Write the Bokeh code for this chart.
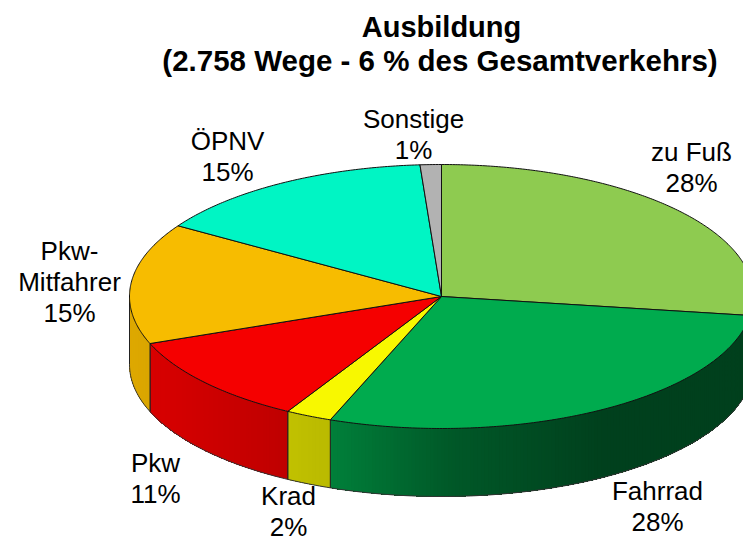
import math
from bokeh.plotting import figure
from bokeh.models import Range1d
from bokeh.core.properties import value
from bokeh.embed import file_html
from bokeh.resources import INLINE

# --- data ---
categories = ["zu Fuß", "Fahrrad", "Krad", "Pkw", "Pkw-Mitfahrer", "ÖPNV", "Sonstige"]
# slice sizes as measured in the picture (the printed labels are the rounded figures below)
shares = [27.3, 28.5, 2.4, 11.0, 14.8, 14.9, 1.1]
printed = [28, 28, 2, 11, 15, 15, 1]
top_colors = ["#8ECB50", "#00AB4E", "#F8F800", "#F50000", "#F7BC00", "#00F5C4", "#B2B2B2"]
title_lines = ["Ausbildung", "(2.758 Wege - 6 % des Gesamtverkehrs)"]
name_lines = [["zu Fuß"], ["Fahrrad"], ["Krad"], ["Pkw"], ["Pkw-", "Mitfahrer"], ["ÖPNV"], ["Sonstige"]]

# --- layout (picture pixels) ---
CX, CY, RX, RY, DEPTH = 441, 296, 312, 132, 68
label_pos = [(691, 151), (657, 490), (288, 495), (155, 462), (69, 250), (227, 140), (413, 118)]
LINE_H = 31
W, H = 743, 541
shade_x = [129, 289, 330, 450, 600, 760]
shade_v = [0.90, 0.78, 0.75, 0.52, 0.38, 0.38]
title_style = [(441, 26, "29px"), (439.5, 60, "29.5px")]


def shade(x):
    for i in range(len(shade_x) - 1):
        if x <= shade_x[i + 1]:
            t = (x - shade_x[i]) / (shade_x[i + 1] - shade_x[i])
            return shade_v[i] + t * (shade_v[i + 1] - shade_v[i])
    return shade_v[-1]


def darker(col, f):
    r, g, b = (int(col[i:i + 2], 16) for i in (1, 3, 5))
    return "#%02x%02x%02x" % (int(r * f), int(g * f), int(b * f))


def pt(deg):
    a = math.radians(deg)
    return CX + RX * math.sin(a), CY - RY * math.cos(a)


p = figure(width=W, height=H, x_range=Range1d(0, W), y_range=Range1d(H, 0),
           toolbar_location=None, output_backend="svg", min_border=0)
p.axis.visible = False
p.grid.visible = False
p.outline_line_color = None

bounds = [0.0]
for s in shares:
    bounds.append(bounds[-1] + s * 3.6)

# side wall: each strip runs on to the slice's end, so later strips overlap it and no seams show
for i, col in enumerate(top_colors):
    a0, a1 = max(bounds[i], 90), min(bounds[i + 1], 270)
    if a1 <= a0:
        continue
    n = max(2, int((a1 - a0) * 1.5))
    us = [a0 + (a1 - a0) * k / n for k in range(n + 1)]
    for k in range(n):
        seg = [pt(u) for u in us[k:]]
        mid = pt((us[k] + us[k + 1]) / 2)
        p.patch([q[0] for q in seg] + [q[0] for q in reversed(seg)],
                [q[1] for q in seg] + [q[1] + DEPTH for q in reversed(seg)],
                fill_color=darker(col, shade(mid[0])), line_color=None)
    arc = [pt(u) for u in us]
    p.line([q[0] for q in arc], [q[1] + DEPTH for q in arc], line_color="#333333", line_width=1)
    for a in (a0, a1):
        x, y = pt(a)
        p.line([x, x], [y, y + DEPTH], line_color="#222222", line_width=1)

# top face
for i, col in enumerate(top_colors):
    a0, a1 = bounds[i], bounds[i + 1]
    n = max(4, int((a1 - a0) * 2))
    arc = [pt(a0 + (a1 - a0) * k / n) for k in range(n + 1)]
    p.patch([CX] + [q[0] for q in arc], [CY] + [q[1] for q in arc],
            fill_color=col, line_color="#111111", line_width=1)

font = value("Liberation Sans")
for (x, y), names, pct in zip(label_pos, name_lines, printed):
    for j, t in enumerate(names + [f"{pct}%"]):
        p.text([x], [y + j * LINE_H], text=[t], text_font=font, text_font_size="26px",
               text_align="center", text_baseline="middle", text_color="#000000")
for (x, y, size), t in zip(title_style, title_lines):
    p.text([x], [y], text=[t], text_font=font, text_font_size=size, text_font_style="bold",
           text_align="center", text_baseline="middle", text_color="#000000")

open("out.html", "w").write(file_html(p, INLINE))
